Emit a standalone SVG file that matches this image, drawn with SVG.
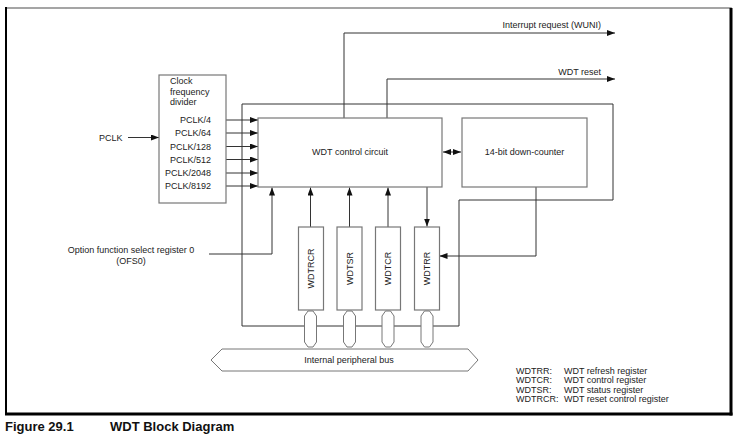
<svg xmlns="http://www.w3.org/2000/svg" width="743" height="437" viewBox="0 0 743 437">
<defs>
<marker id="ah" markerWidth="8" markerHeight="6" refX="8" refY="3" orient="auto" markerUnits="userSpaceOnUse">
<path d="M0,0 L8,3 L0,6 Z" fill="#111"/>
</marker>
<marker id="ahs" markerWidth="8" markerHeight="6" refX="0" refY="3" orient="auto" markerUnits="userSpaceOnUse">
<path d="M8,0 L0,3 L8,6 Z" fill="#111"/>
</marker>
<style>
text{font-family:"Liberation Sans",Arial,sans-serif;font-size:9px;fill:#222}
.box{fill:#fff;stroke:#777;stroke-width:1.2}
.ln{fill:none;stroke:#333;stroke-width:1}
.ar{fill:none;stroke:#333;stroke-width:1;marker-end:url(#ah)}
.conn{fill:#fff;stroke:#777;stroke-width:1}
.cap{font-size:13px;font-weight:bold;fill:#111}
</style>
</defs>
<rect width="743" height="437" fill="#fff"/>
<g id="frame">
<rect x="6" y="8" width="725" height="406" fill="none" stroke="#888" stroke-width="1.5"/>
<line x1="6" y1="7" x2="6" y2="415" stroke="#000" stroke-width="2"/>
<line x1="731" y1="8" x2="731" y2="415.5" stroke="#000" stroke-width="3"/>
<line x1="5" y1="414" x2="732.5" y2="414" stroke="#000" stroke-width="3"/>
</g>
<g id="connectors">
<path class="ln" d="M242,104 H613 V200 H459 V326 H242 Z"/>
<line class="ar" x1="128" y1="137.5" x2="159" y2="137.5"/>
<line class="ar" x1="214" y1="120" x2="258" y2="120"/>
<line class="ar" x1="214" y1="133" x2="258" y2="133"/>
<line class="ar" x1="214" y1="146.5" x2="258" y2="146.5"/>
<line class="ar" x1="214" y1="159.5" x2="258" y2="159.5"/>
<line class="ar" x1="214" y1="173" x2="258" y2="173"/>
<line class="ar" x1="214" y1="186" x2="258" y2="186"/>
<path class="ar" d="M344,118 V33 H615"/>
<path class="ar" d="M387,118 V79 H615"/>
<line class="ln" x1="443" y1="152" x2="461" y2="152" marker-start="url(#ahs)" marker-end="url(#ah)"/>
<path class="ar" d="M209,254 H272 V187.5"/>
<line class="ar" x1="310.5" y1="227" x2="310.5" y2="187.5"/>
<line class="ar" x1="349.5" y1="227" x2="349.5" y2="187.5"/>
<line class="ar" x1="388" y1="227" x2="388" y2="187.5"/>
<line class="ar" x1="427" y1="187" x2="427" y2="226.5"/>
<path class="ar" d="M536,187 V256 H439.5"/>
</g>
<g id="clock-divider">
<rect class="box" x="159" y="75" width="67" height="128"/>
<text x="170" y="84">Clock</text>
<text x="170" y="95">frequency</text>
<text x="170" y="105">divider</text>
<g text-anchor="end">
<text x="211" y="123">PCLK/4</text>
<text x="211" y="136">PCLK/64</text>
<text x="211" y="149.5">PCLK/128</text>
<text x="211" y="162.5">PCLK/512</text>
<text x="211" y="176">PCLK/2048</text>
<text x="211" y="189">PCLK/8192</text>
</g>
</g>
<g id="pclk-label"><text x="99" y="140.5">PCLK</text></g>
<g id="wdt-control">
<rect class="box" x="258" y="118" width="184" height="69"/>
<text x="350" y="155" text-anchor="middle">WDT control circuit</text>
</g>
<g id="down-counter">
<rect class="box" x="462" y="118" width="125" height="69"/>
<text x="524.5" y="155" text-anchor="middle">14-bit down-counter</text>
</g>
<g id="labels-out">
<text x="601" y="28" text-anchor="end">Interrupt request (WUNI)</text>
<text x="601" y="75" text-anchor="end">WDT reset</text>
</g>
<g id="ofs0">
<text x="131" y="252.5" text-anchor="middle">Option function select register 0</text>
<text x="131" y="263.5" text-anchor="middle">(OFS0)</text>
</g>
<g id="wdtrcr">
<rect class="box" x="298.5" y="227" width="25" height="83"/>
<text transform="translate(314,268.5) rotate(-90)" text-anchor="middle">WDTRCR</text>
</g>
<g id="wdtsr">
<rect class="box" x="337" y="227" width="25" height="83"/>
<text transform="translate(352.5,268.5) rotate(-90)" text-anchor="middle">WDTSR</text>
</g>
<g id="wdtcr">
<rect class="box" x="375.5" y="227" width="25" height="83"/>
<text transform="translate(391,268.5) rotate(-90)" text-anchor="middle">WDTCR</text>
</g>
<g id="wdtrr">
<rect class="box" x="414.5" y="227" width="25" height="83"/>
<text transform="translate(430,268.5) rotate(-90)" text-anchor="middle">WDTRR</text>
</g>
<g id="bus-links">
<polygon class="conn" points="304.5,316 308,311 313,311 316.5,316 316.5,342 313,347 308,347 304.5,342"/>
<polygon class="conn" points="343.5,316 347,311 352,311 355.5,316 355.5,342 352,347 347,347 343.5,342"/>
<polygon class="conn" points="382,316 385.5,311 390.5,311 394,316 394,342 390.5,347 385.5,347 382,342"/>
<polygon class="conn" points="421,316 424.5,311 429.5,311 433,316 433,342 429.5,347 424.5,347 421,342"/>
</g>
<g id="bus">
<polygon class="conn" points="211,360 222,349 468,349 478,360 468,371 222,371"/>
<text x="349" y="363" text-anchor="middle">Internal peripheral bus</text>
</g>
<g id="legend">
<text x="516" y="373.5">WDTRR:</text><text x="564" y="373.5">WDT refresh register</text>
<text x="516" y="383">WDTCR:</text><text x="564" y="383">WDT control register</text>
<text x="516" y="392.5">WDTSR:</text><text x="564" y="392.5">WDT status register</text>
<text x="516" y="402">WDTRCR:</text><text x="564" y="402">WDT reset control register</text>
</g>
<g id="caption">
<text class="cap" x="5" y="431">Figure 29.1</text>
<text class="cap" x="110" y="431">WDT Block Diagram</text>
</g>
</svg>
